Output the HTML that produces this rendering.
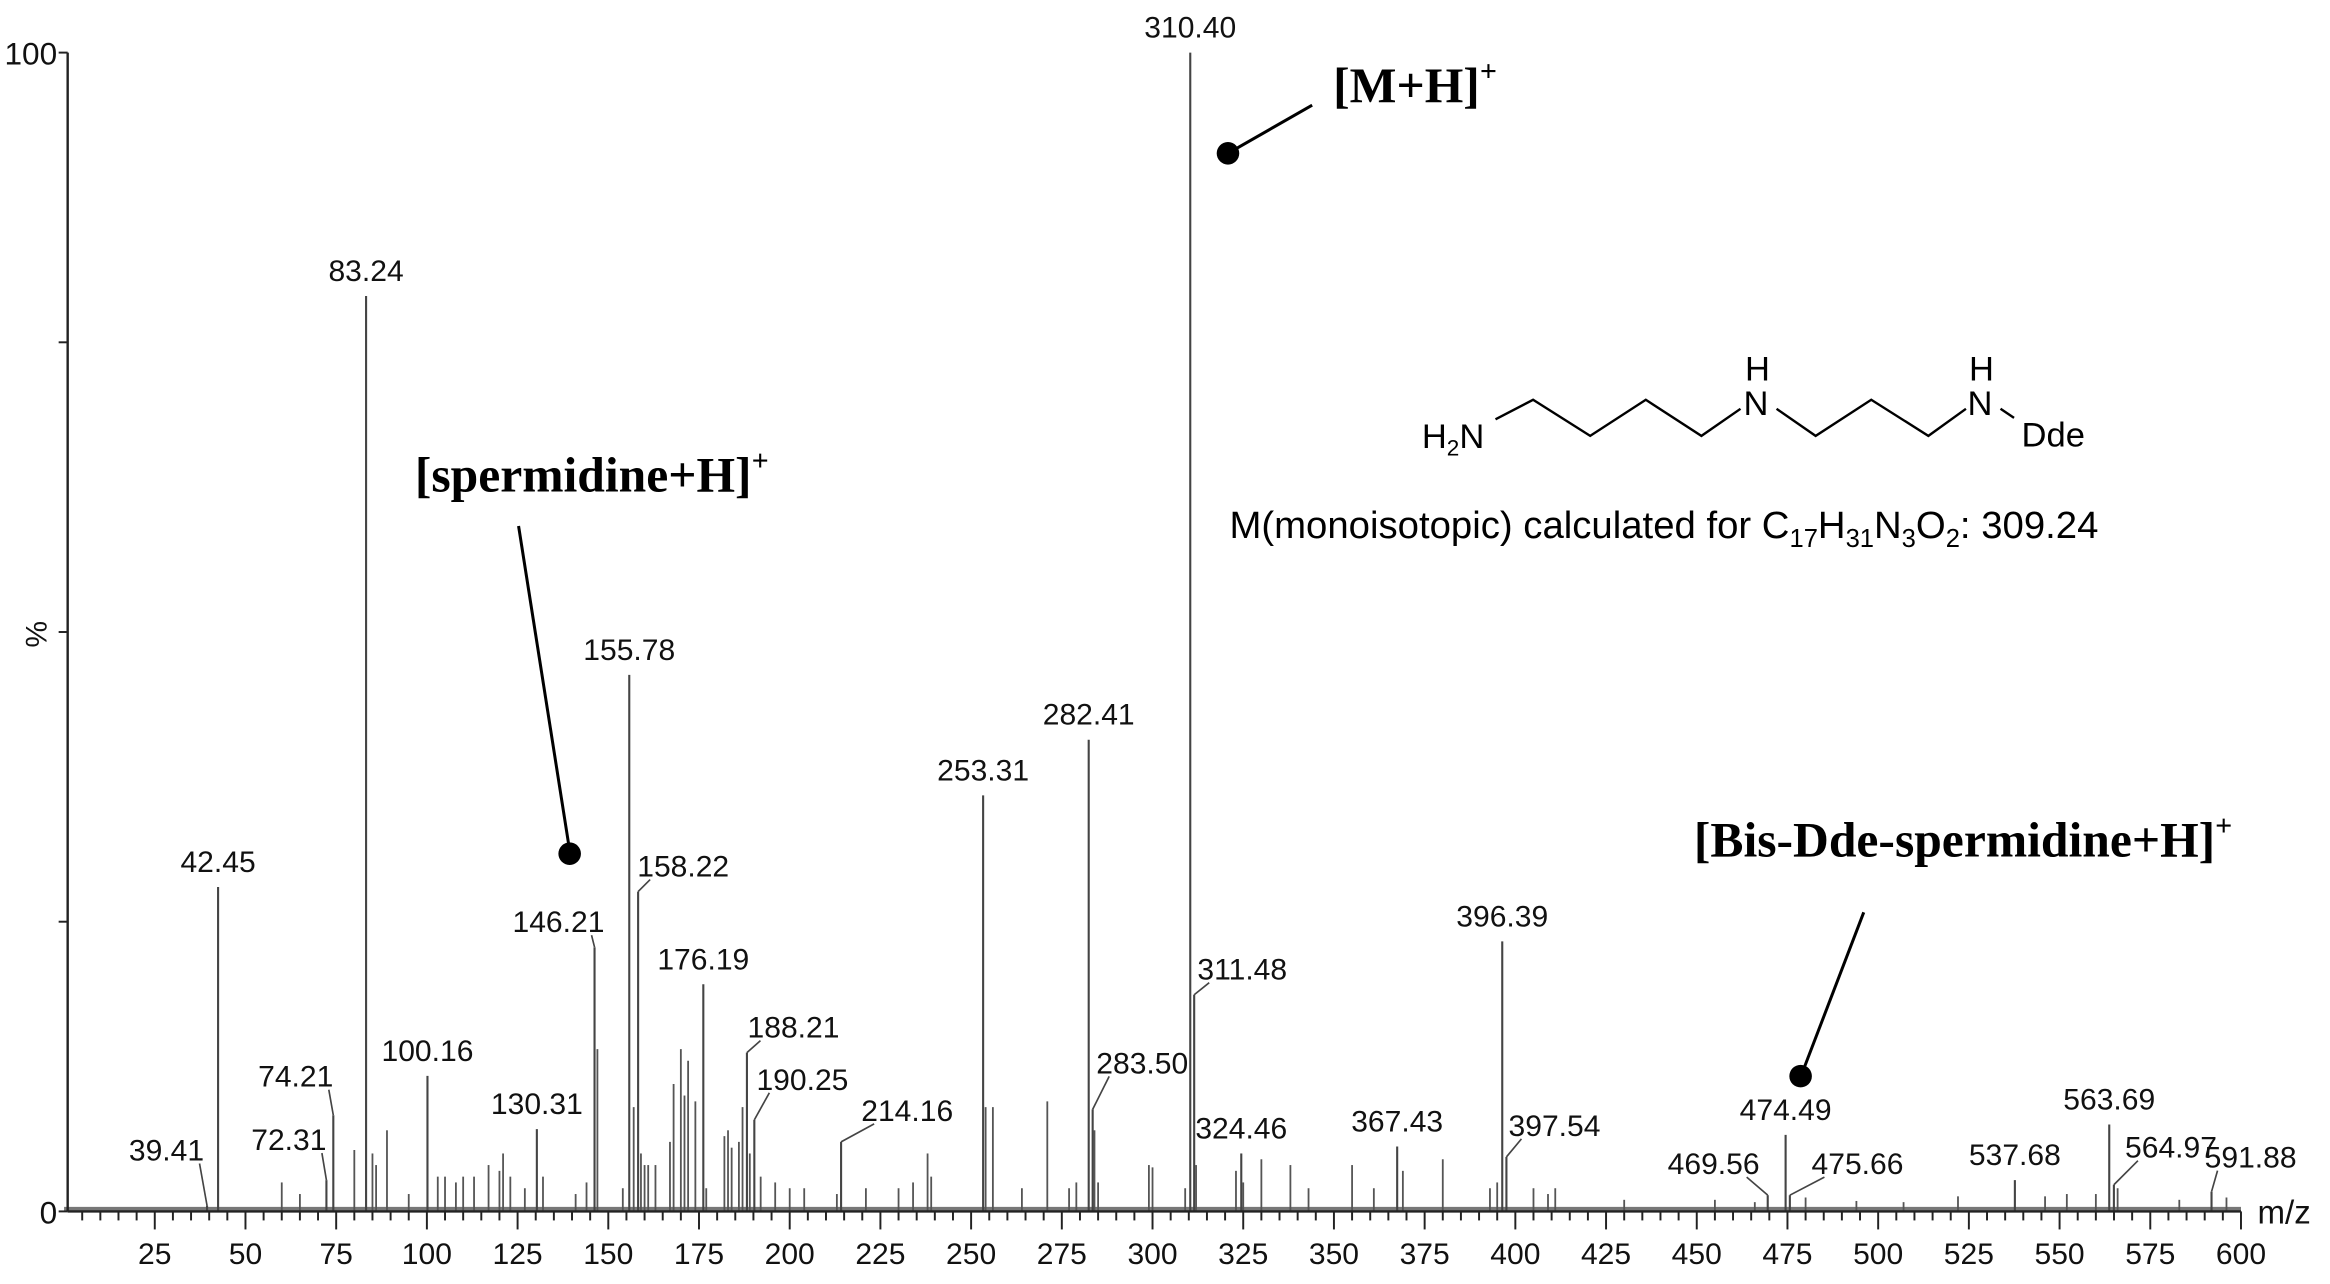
<!DOCTYPE html>
<html><head><meta charset="utf-8"><style>
html,body{margin:0;padding:0;background:#fff;}
svg{display:block;}
</style></head><body>
<svg id="chart" width="2330" height="1284" viewBox="0 0 1550.2 854.3" xmlns="http://www.w3.org/2000/svg" font-family="'Liberation Sans', Arial, sans-serif">
<rect width="1550.2" height="854.3" fill="#fff"/>
<g id="marks"></g>
<g id="axes"></g>
<g id="labels"></g>

<g>
<line x1="817" y1="102" x2="873" y2="70" stroke="#000" stroke-width="2"/>
<circle cx="817" cy="102" r="7.5" fill="#000"/>
<text x="887" y="68" font-family="'Liberation Serif', serif" font-weight="bold" font-size="33">[M+H]<tspan font-size="20" dy="-14">+</tspan></text>
</g>
<g>
<line x1="345" y1="350" x2="379" y2="566" stroke="#000" stroke-width="2"/>
<circle cx="379" cy="568" r="7.5" fill="#000"/>
<text x="276" y="327" font-family="'Liberation Serif', serif" font-weight="bold" font-size="33">[spermidine+H]<tspan font-size="20" dy="-14">+</tspan></text>
</g>
<g>
<line x1="1240" y1="607" x2="1199" y2="714" stroke="#000" stroke-width="2"/>
<circle cx="1198" cy="716" r="7.5" fill="#000"/>
<text x="1127" y="570" font-family="'Liberation Serif', serif" font-weight="bold" font-size="33">[Bis-Dde-spermidine+H]<tspan font-size="20" dy="-14">+</tspan></text>
</g>

<g font-size="23">
<text x="946" y="298">H<tspan font-size="15" dy="5">2</tspan><tspan dy="-5">N</tspan></text>
<polyline points="995,279 1020,266 1058,290 1095,266 1132,290 1158,272" fill="none" stroke="#000" stroke-width="1.6"/>
<text x="1160" y="276">N</text><text x="1161" y="253">H</text>
<polyline points="1182,272 1208,290 1245,266 1283,290 1308,272" fill="none" stroke="#000" stroke-width="1.6"/>
<text x="1309" y="276">N</text><text x="1310" y="253">H</text>
<line x1="1331" y1="272" x2="1340" y2="278" stroke="#000" stroke-width="1.6"/>
<text x="1345" y="297">Dde</text>
</g>
<text x="818" y="358" font-size="25.5">M(monoisotopic) calculated for C<tspan font-size="17" dy="6">17</tspan><tspan dy="-6">H</tspan><tspan font-size="17" dy="6">31</tspan><tspan dy="-6">N</tspan><tspan font-size="17" dy="6">3</tspan><tspan dy="-6">O</tspan><tspan font-size="17" dy="6">2</tspan><tspan dy="-6">: 309.24</tspan></text>

<script>
// ---- data ----
const labeledMz = [39.41,42.45,72.31,74.21,83.24,100.16,130.31,146.21,155.78,158.22,176.19,188.21,190.25,214.16,253.31,282.41,283.50,310.40,311.48,324.46,367.43,396.39,397.54,469.56,474.49,475.66,537.68,563.69,564.97,591.88];
const labeledPct = [0.5,28,2.7,8.3,79,11.7,7.1,22.8,46.3,27.6,19.6,13.7,7.9,6,35.9,40.7,8.8,100,18.7,5,5.6,23.3,4.7,1.4,6.6,1.4,2.7,7.5,2.3,1.7];
const minorMz = [60,65,80,85,86,89,95,103,105,108,110,113,117,120,121,123,127,132,141,144,147,154,157,159,160,161,163,167,168,170,171,172,174,177,182,183,184,186,187,189,192,196,200,204,213,221,230,234,238,239,254,256,264,271,277,279,284,285,299,300,309,312,323,325,330,338,343,355,361,369,380,393,395,405,409,411,430,455,466,480,494,507,522,546,552,560,566,583,596];
const minorPct = [2.5,1.5,5.3,5,4,7,1.5,3,3,2.5,3,3,4,3.5,5,3,2,3,1.5,2.5,14,2,9,5,4,4,4,6,11,14,10,13,9.5,2,6.5,7,5.5,6,9,5,3,2.5,2,2,1.5,2,2,2.5,5,3,9,9,2,9.5,2,2.5,7,2.5,4,3.8,2,4,3.5,2.5,4.5,4,2,4,2,3.5,4.5,2,2.5,2,1.5,2,1,1,0.8,1.2,0.9,0.8,1.3,1.3,1.5,1.5,2,1,1.2];
const xTicksMajor = [25,50,75,100,125,150,175,200,225,250,275,300,325,350,375,400,425,450,475,500,525,550,575,600];
const yTicks = [0,25,50,75,100];
// label layout offsets (display units) for labels placed off their peaks
const labelOffsets = {"39.41":[-27,-20],"72.31":[-25,-10],"74.21":[-25,-9],"146.21":[-24,0],"158.22":[30,0],"188.21":[31,0],"190.25":[32,-10],"214.16":[44,-4],"283.50":[33,-14],"311.48":[32,0],"397.54":[32,-4],"469.56":[-36,-4],"475.66":[45,-4],"564.97":[38,-8],"591.88":[26,-6]};

// ---- scales ----
const X0=42.6, XK=2.414, Y0=806, YK=7.71;
const xs = m => X0 + XK*m;
const ys = p => Y0 - YK*p;
const NS="http://www.w3.org/2000/svg";
const marks=document.getElementById('marks'), axes=document.getElementById('axes'), labs=document.getElementById('labels');
function mk(tag, attrs, parent){const e=document.createElementNS(NS,tag);for(const k in attrs)e.setAttribute(k,attrs[k]);parent.appendChild(e);return e;}

const grass = mk('line',{x1:xs(0),x2:xs(600),y1:Y0-1.5,y2:Y0-1.5,stroke:'#777','stroke-width':3},marks);



minorMz.forEach((m,i)=>{
  const l=mk('line',{x1:xs(m),x2:xs(m),y1:Y0,y2:ys(minorPct[i]),stroke:'#555','stroke-width':1.2},marks);
  
  
});
labeledMz.forEach((m,i)=>{
  const px=xs(m), py=ys(labeledPct[i]);
  const l=mk('line',{x1:px,x2:px,y1:Y0,y2:py,stroke:'#444','stroke-width':1.4},marks);
  
  
  const key=m.toFixed(2);
  const off=labelOffsets[key]||[0,0];
  const lx=px+off[0], ly=py-10+off[1];
  if(off[0]!==0||off[1]!==0){
    const ld=mk('polyline',{points:`${lx+(off[0]>0?-22:22)},${ly+2} ${px},${py}`,fill:'none',stroke:'#444','stroke-width':1.1},labs);
    
    
  }
  const t=mk('text',{x:lx,y:ly,'text-anchor':'middle','font-size':20,fill:'#111'},labs);
  t.textContent=key;
  
  
});

const xa=mk('line',{x1:45,x2:xs(600),y1:Y0,y2:Y0,stroke:'#222','stroke-width':1.6},axes);


const ya=mk('line',{x1:45,x2:45,y1:Y0,y2:ys(100),stroke:'#222','stroke-width':1.6},axes);


for(let m=5;m<=600;m+=5){
  const major=xTicksMajor.includes(m);
  const tk=mk('line',{x1:xs(m),x2:xs(m),y1:Y0,y2:Y0+(major?12:6),stroke:'#222','stroke-width':1.3},axes);
  
  
}
xTicksMajor.forEach(m=>{
  const t=mk('text',{x:xs(m),y:841,'text-anchor':'middle','font-size':20,fill:'#111'},axes);
  t.textContent=m;
  
  
});
yTicks.forEach(p=>{
  const tk=mk('line',{x1:39,x2:45,y1:ys(p),y2:ys(p),stroke:'#222','stroke-width':1.3},axes);
  
  
  if(p===0||p===100){
    const t=mk('text',{x:38,y:ys(p)+8,'text-anchor':'end','font-size':21,fill:'#111'},axes);
    t.textContent=p;
    
    
  }
});
const yt=mk('text',{x:0,y:0,'font-size':20,fill:'#111','text-anchor':'middle',transform:'translate(31,422) rotate(-90)'},axes);
yt.textContent='%';


const xt=mk('text',{x:1502,y:814,'font-size':22,fill:'#111'},axes);
xt.textContent='m/z';


</script>
</svg>
</body></html>
